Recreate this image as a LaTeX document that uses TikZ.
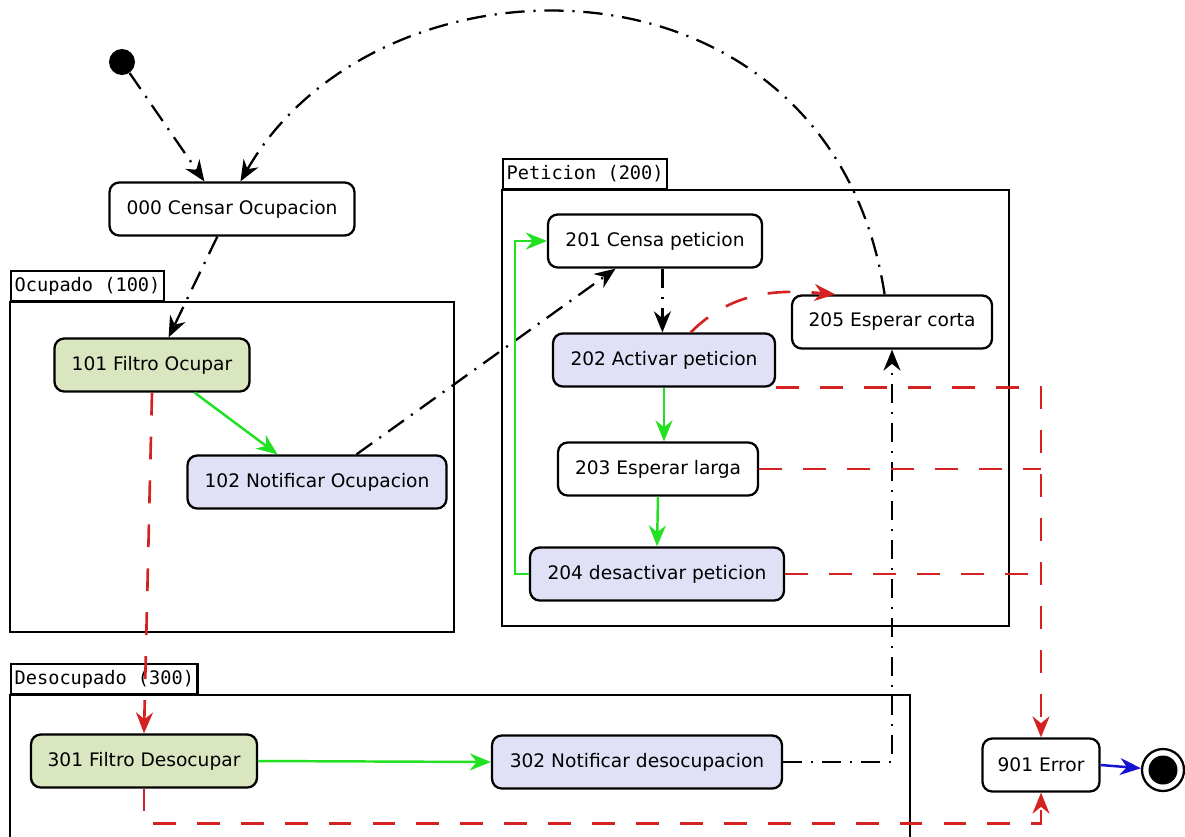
\documentclass[tikz,border=0pt]{standalone}
\usepackage{fontspec}
\setmainfont{DejaVu Sans}
\setmonofont{DejaVu Sans Mono}
\usetikzlibrary{arrows.meta, positioning}

\definecolor{verdefiltro}{HTML}{DAE6C0}
\definecolor{lilanotif}{HTML}{E0E1F6}
\definecolor{rojoerror}{HTML}{D42222}
\definecolor{verdeok}{HTML}{22E022}
\definecolor{azulfin}{HTML}{1212D0}

\begin{document}
\begin{tikzpicture}[
			x=0.02cm, y=-0.02cm,
			font=\fontsize{10.6}{12}\selectfont,
			estado/.style={
				draw,
				line width=1.3pt,
				rounded corners=5.5pt,
				fill=white,
				minimum height=10.6mm,
				align=center
			},
			filtro/.style={estado, fill=verdefiltro},
			notif/.style={estado, fill=lilanotif},
			grupo/.style={draw, line width=1.4pt},
			pestana/.style={
				draw, line width=1.3pt, fill=white,
				anchor=south west,
				font=\ttfamily\fontsize{10.6}{12}\selectfont,
				minimum height=6mm, inner xsep=2pt, inner ysep=0pt
			},
			flecha/.style={-{Stealth[length=4.2mm, width=3.4mm]}},
			ok/.style={flecha, verdeok, line width=1.4pt},
			fallo/.style={flecha, rojoerror, line width=1.5pt, dash pattern=on 13pt off 12pt},
			salto/.style={flecha, line width=1.3pt, dash pattern=on 11pt off 5pt on 1.2pt off 5pt},
			fin/.style={flecha, azulfin, line width=1.4pt}
			]
			
			\clip (0,0) rectangle (1185,836);
			
			% grupos
			\draw[grupo] (10,302) rectangle (454,632);
			\node[pestana] (t100) at (10,302) {Ocupado (100)};
			\draw[grupo] (502,190) rectangle (1009,626);
			\node[pestana] (t200) at (502,190) {Peticion (200)};
			\draw[grupo] (10,695) rectangle (910,860);
			\node[pestana] (t300) at (10,695) {Desocupado (300)};
			
			% estados
			\node[circle, fill, inner sep=0pt, minimum size=5.2mm] (inicio) at (122,62) {};
			\node[estado, minimum width=49mm] (c000) at (232,209) {000 Censar Ocupacion};
			\node[filtro, minimum width=39mm] (f101) at (152,365) {101 Filtro Ocupar};
			\node[notif, minimum width=51.8mm] (n102) at (317,482) {102 Notificar Ocupacion};
			\node[estado, minimum width=42.8mm] (p201) at (655,241) {201 Censa peticion};
			\node[notif, minimum width=44.4mm] (p202) at (664,360) {202 Activar peticion};
			\node[estado, minimum width=40mm] (p203) at (658,469) {203 Esperar larga};
			\node[notif, minimum width=50.8mm] (p204) at (657,574) {204 desactivar peticion};
			\node[estado, minimum width=40mm] (p205) at (892,322) {205 Esperar corta};
			\node[filtro, minimum width=45.2mm] (f301) at (144,761) {301 Filtro Desocupar};
			\node[notif, minimum width=58mm] (n302) at (637,762) {302 Notificar desocupacion};
			\node[estado, minimum width=23.4mm] (e901) at (1041,765) {901 Error};
			\node[circle, draw, line width=1.3pt, minimum size=8.4mm] (final) at (1163,770) {};
			\node[circle, fill, inner sep=0pt, minimum size=5.8mm] (finaldentro) at (final) {};
			
			% transiciones
			\draw[salto] (inicio) -- (c000.135);
			\draw[salto] (p205.105) .. controls (830,-60) and (380,-60) .. (c000.73);
			\draw[salto] (c000.-118) -- (f101.59);
			\draw[ok] (f101.-33) -- (n102.145);
			\draw[salto] (n102.35) -- (p201.-145);
			\draw[salto] (p201.-75) -- (p201.-75 |- p202.north);
			\draw[fallo] (p202.46) to[out=45, in=175] (p205.154);
			\draw[ok] (p202.south) -- (p202.south |- p203.north);
			\draw[ok] (p203.south) -- (p204.north);
			\draw[ok] (p204.west) -- ++(-14,0) |- (p201.west);
			\draw[fallo] (f101.south) -- (f301.north);
			\draw[ok] (f301.east) -- (n302.west);
			\draw[salto] (n302.east) -| (p205.south);
			\draw[fallo] (p202.south east) -| (e901.north);
			\draw[fallo, -] (p203.east) -- (p203.east -| e901.north);
			\draw[fallo, -] (p204.east) -- (p204.east -| e901.north);
			\draw[fallo] (f301.south) -- ++(0,35) -| (e901.south);
			\draw[fin] (e901.east) -- (final);
			
		\end{tikzpicture}
\end{document}
